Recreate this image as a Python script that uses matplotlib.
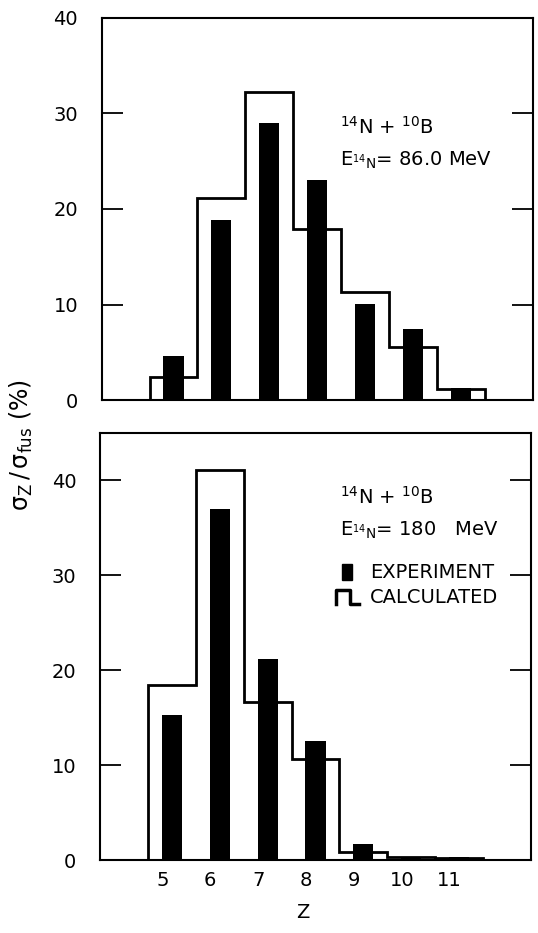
import numpy as np
import matplotlib.pyplot as plt

# Z values and fractions sigma_Z / sigma_fus (%)
z = [5, 6, 7, 8, 9, 10, 11]
exp_86 = [4.6, 18.8, 29.0, 23.0, 10.1, 7.5, 1.3]
calc_86 = [2.4, 21.2, 32.2, 17.9, 11.3, 5.6, 1.2]
exp_180 = [15.3, 37.0, 21.2, 12.6, 1.7, 0.3, 0.3]
calc_180 = [18.5, 41.1, 16.7, 10.7, 0.9, 0.3, 0.2]
yticks_top = [0, 10, 20, 30, 40]
yticks_bot = [0, 10, 20, 30, 40]

plt.rcParams['font.family'] = ['DejaVu Sans']
plt.rcParams['mathtext.fontset'] = 'dejavusans'

fig = plt.figure(figsize=(5.38, 9.33), dpi=100)
ax1 = fig.add_axes([0.189, 0.571, 0.801, 0.410])
ax2 = fig.add_axes([0.186, 0.078, 0.801, 0.458])

zz = np.array(z)
edges = np.append(zz - 0.5, zz[-1] + 0.5)


def draw_panel(ax, exp, calc, ylim, yticks):
    ax.bar(zz, exp, width=0.42, color='black')
    ax.stairs(calc, edges, baseline=0, color='black', lw=2.0)
    ax.set_xlim(3.5, 12.5)
    ax.set_ylim(*ylim)
    ax.set_yticks(yticks)
    ax.tick_params(axis='y', direction='in', length=15, width=1.3,
                   left=True, right=True, labelsize=14, pad=17)
    ax.tick_params(axis='x', length=0, labelsize=14, pad=8)
    for s in ax.spines.values():
        s.set_linewidth(1.5)


draw_panel(ax1, exp_86, calc_86, (0, 40), yticks_top)
ax1.set_xticks([])
ax1.text(0.553, 0.715, r"$^{14}$N + $^{10}$B", transform=ax1.transAxes,
         fontsize=14, ha='left', va='center')
ax1.text(0.553, 0.628, r"E$_{^{14}\mathrm{N}}$= 86.0 MeV", transform=ax1.transAxes,
         fontsize=14, ha='left', va='center')

draw_panel(ax2, exp_180, calc_180, (0, 45), yticks_bot)
ax2.set_xticks(zz - 0.2)
ax2.set_xticklabels([str(v) for v in z])
ax2.text(0.557, 0.850, r"$^{14}$N + $^{10}$B", transform=ax2.transAxes,
         fontsize=14, ha='left', va='center')
ax2.text(0.557, 0.772, r"E$_{^{14}\mathrm{N}}$= 180   MeV", transform=ax2.transAxes,
         fontsize=14, ha='left', va='center')

# legend glyphs
ax2.add_patch(plt.Rectangle((0.561, 0.655), 0.024, 0.038, color='black',
                            transform=ax2.transAxes, clip_on=False))
ax2.text(0.626, 0.674, "EXPERIMENT", transform=ax2.transAxes,
         fontsize=14, ha='left', va='center')
ax2.plot([0.547, 0.547, 0.580, 0.580, 0.600],
         [0.600, 0.633, 0.633, 0.600, 0.600], color='black', lw=2.5,
         transform=ax2.transAxes, clip_on=False)
ax2.text(0.626, 0.616, "CALCULATED", transform=ax2.transAxes,
         fontsize=14, ha='left', va='center')

fig.text(0.040, 0.523, r"$\mathrm{\sigma_Z\,/\,\sigma_{fus}}$ (%)", rotation=90,
         fontsize=17, ha='center', va='center')
fig.text(0.563, 0.012, "Z", fontsize=14, ha='center', va='bottom')

fig.savefig("out.png", dpi=100)
